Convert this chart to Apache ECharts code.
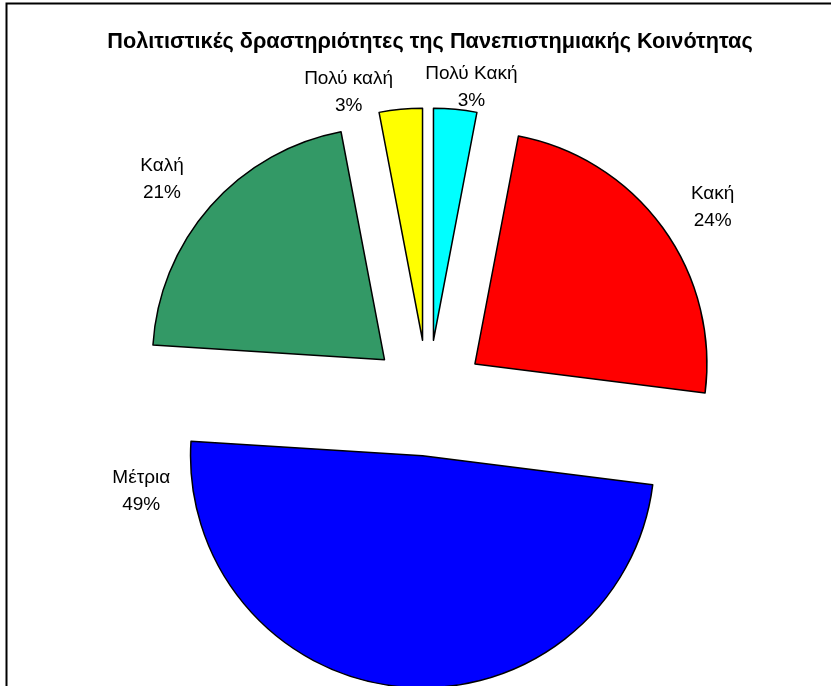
<!DOCTYPE html>
<html>
<head>
<meta charset="utf-8">
<script src="https://cdn.jsdelivr.net/npm/echarts@6/dist/echarts.min.js"></script>
<style>
    html, body { margin: 0; padding: 0; background: #fff; }
    #chart { width: 831px; height: 686px; }
</style>
</head>
<body>
<div id="chart"></div>
<script>
// Data
const ratings = ['Πολύ Κακή', 'Κακή', 'Μέτρια', 'Καλή', 'Πολύ καλή'];
const shares = [3, 24, 49, 21, 3];

// Look
const sliceColors = ['#00ffff', '#ff0000', '#0000ff', '#339966', '#ffff00'];
// [length, length2] of the (hidden) label line, per slice, to put labels where Excel had them
const labelLines = [[22, -32], [35, 0], [-196, 249], [41, -4], [17, 6]];

const chartElement = document.getElementById('chart');
const chart = echarts.init(chartElement);

const options = {
    animation: false,
    backgroundColor: '#fff',
    textStyle: {
        fontFamily: 'Liberation Sans, Arial, sans-serif'
    },
    title: {
        text: 'Πολιτιστικές δραστηριότητες της Πανεπιστημιακής Κοινότητας',
        left: 425,
        top: 26,
        textAlign: 'center',
        textStyle: {
            fontSize: 21.7,
            fontWeight: 'bold',
            color: '#000'
        }
    },
    graphic: [
        {
            type: 'rect',
            shape: { x: 6.5, y: 3.5, width: 1000, height: 1000 },
            style: { fill: 'none', stroke: '#000', lineWidth: 2 },
            silent: true
        }
    ],
    series: [
        {
            type: 'pie',
            center: [428, 398],
            radius: 232,
            startAngle: 90,
            clockwise: true,
            selectedMode: 'multiple',
            selectedOffset: 58,
            avoidLabelOverlap: false,
            stateAnimation: { duration: 0 },
            emphasis: { disabled: true },
            itemStyle: {
                borderColor: '#000',
                borderWidth: 1.5
            },
            label: {
                position: 'outside',
                distanceToLabelLine: 0,
                formatter: (p) => `{t|${p.name}}\n{t|${Math.round(p.percent)}%}`,
                rich: {
                    t: {
                        fontSize: 19,
                        lineHeight: 27,
                        color: '#000',
                        align: 'center',
                        fontFamily: 'Liberation Sans, Arial, sans-serif'
                    }
                }
            },
            labelLine: { show: false },
            data: ratings.map((name, i) => ({
                name: name,
                value: shares[i],
                selected: true,
                itemStyle: { color: sliceColors[i] },
                labelLine: { show: false, length: labelLines[i][0], length2: labelLines[i][1] }
            }))
        }
    ]
};

chart.setOption(options);
</script>
</body>
</html>
